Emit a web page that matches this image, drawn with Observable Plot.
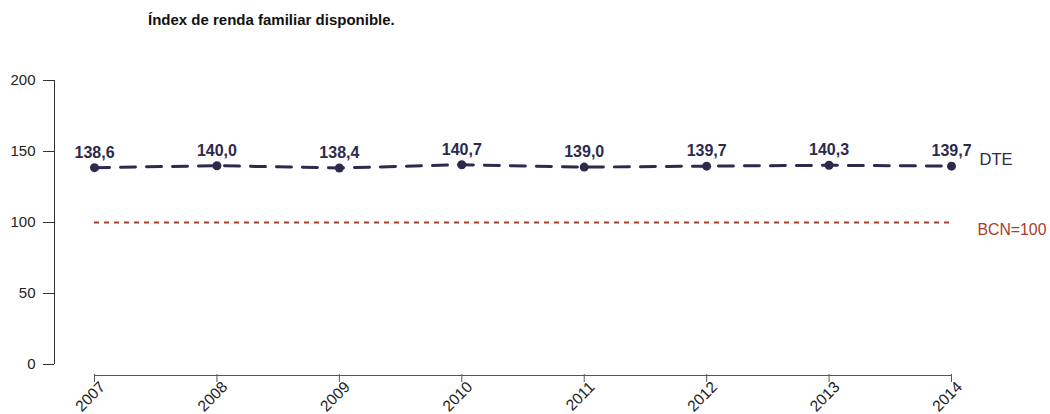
<!DOCTYPE html>
<html>
<head>
<meta charset="utf-8">
<script src="https://cdn.jsdelivr.net/npm/d3@7"></script>
<script src="https://cdn.jsdelivr.net/npm/@observablehq/plot@0.6"></script>
<style>
  body { margin: 0; background: white; font-family: "Liberation Sans", Arial, sans-serif; }
  #title { height: 40px; position: relative; }
  #title span { position: absolute; left: 148px; top: 11px; font-size: 15px; font-weight: bold; color: #111; }
  svg { display: block; }
  g[aria-label="y-axis tick label"] { font-size: 15px !important; }
  g.xlab text { font-size: 15.5px; }
</style>
</head>
<body>
<div id="title"><span>Índex de renda familiar disponible.</span></div>
<div id="chart"></div>
<script>
const years = [2007, 2008, 2009, 2010, 2011, 2012, 2013, 2014];
const dte = [138.6, 140.0, 138.4, 140.7, 139.0, 139.7, 140.3, 139.7];
const bcn = 100;
const yTicks = [0, 50, 100, 150, 200];
const seriesLabel = "DTE";
const refLabel = "BCN=100";

const data = years.map((y, i) => ({year: y, value: dte[i], label: dte[i].toFixed(1).replace(".", ",")}));
const navy = "#2c2a4d";
const red = "#a83d2b";
const last = data[data.length - 1];

const chart = Plot.plot({
  width: 1050,
  height: 374,
  marginLeft: 54,
  marginRight: 0,
  marginTop: 40,
  marginBottom: 40,
  style: {fontFamily: "Liberation Sans, Arial, sans-serif", fontSize: "15px", color: "#222", background: "white"},
  x: {type: "linear", domain: [2007, 2014], range: [94, 951]},
  y: {domain: [0, 200], range: [324, 40]},
  marks: [
    Plot.axisY({ticks: yTicks, tickSize: 11, tickPadding: 8, label: null, fontSize: 15, stroke: "#333", fill: "#222"}),
    Plot.ruleX([2007], {y1: 0, y2: 200, dx: -40, stroke: "#333"}),
    Plot.ruleY([0], {x1: 2007, x2: 2014, dy: 11, stroke: "#555"}),
    Plot.axisX({ticks: years, tickSize: 8, tickFormat: () => "", label: null, stroke: "#555"}),
    Plot.text(years, {x: d => d, y: 0, text: d => String(d), dx: 8, dy: 20, rotate: -45, textAnchor: "end", lineAnchor: "middle", fontSize: 15.5, fill: "#222", className: "xlab"}),
    Plot.ruleY([bcn], {x1: 2007, x2: 2014, stroke: red, strokeWidth: 2, strokeDasharray: "5,5"}),
    Plot.line(data, {x: "year", y: "value", stroke: navy, strokeWidth: 3, strokeDasharray: "15,11"}),
    Plot.dot(data, {x: "year", y: "value", r: 4.5, fill: navy}),
    Plot.text(data, {x: "year", y: "value", text: "label", dy: -15, fill: navy, fontWeight: "bold", fontSize: 16}),
    Plot.text([last], {x: "year", y: "value", text: () => seriesLabel, dx: 28, dy: -6, textAnchor: "start", fill: navy, fontSize: 16.5}),
    Plot.text([last], {x: "year", y: () => bcn, text: () => refLabel, dx: 26, dy: 7, textAnchor: "start", fill: red, fontSize: 15.8})
  ]
});
document.getElementById("chart").appendChild(chart);
</script>
</body>
</html>
